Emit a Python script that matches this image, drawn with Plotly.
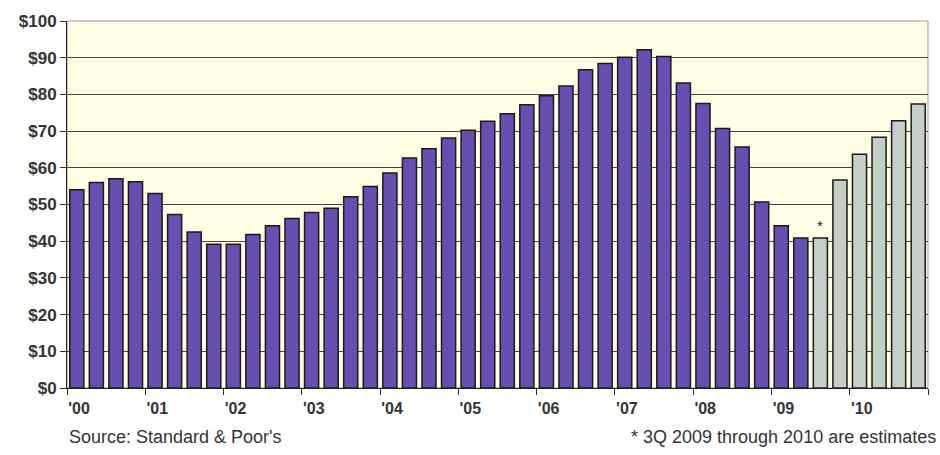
import plotly.graph_objects as go

# quarterly values, 1Q 2000 - 4Q 2010
quarters = [f"{q}Q {y}" for y in range(2000, 2011) for q in range(1, 5)]
actual = [54, 56, 57, 56.2,
          53, 47.3, 42.5, 39.2,
          39.2, 41.8, 44.2, 46.2,
          47.8, 49, 52.1, 54.9,
          58.6, 62.7, 65.2, 68.1,
          70.2, 72.7, 74.7, 77.2,
          79.6, 82.3, 86.7, 88.4,
          90.1, 92.2, 90.3, 83.1,
          77.5, 70.7, 65.7, 50.7,
          44.2, 40.9]
estimates = [40.9, 56.7, 63.7, 68.3, 72.8, 77.4]
year_labels = ["'00", "'01", "'02", "'03", "'04", "'05", "'06", "'07", "'08", "'09", "'10", ""]
y_ticks = list(range(0, 101, 10))

n_actual = len(actual)
x_actual = list(range(n_actual))
x_est = list(range(n_actual, n_actual + len(estimates)))

fig = go.Figure()
fig.add_trace(go.Bar(
    x=x_actual, y=actual, marker=dict(color="#6450B0", line=dict(color="#1a1a1a", width=1.5)),
    hovertext=quarters[:n_actual], name="Actual",
))
fig.add_trace(go.Bar(
    x=x_est, y=estimates, marker=dict(color="#C6CEC8", line=dict(color="#1a1a1a", width=1.5)),
    hovertext=quarters[n_actual:], name="Estimate",
))

# asterisk over first estimate
fig.add_annotation(x=x_est[0], y=estimates[0], text="*", showarrow=False, yshift=12,
                   font=dict(family="Arial", size=15, color="#222"))

fig.add_annotation(x=0, y=0, xref="paper", yref="paper", xanchor="left", yanchor="top",
                   yshift=-37, text="Source: Standard & Poor's", showarrow=False,
                   font=dict(family="Arial", size=18, color="#333"))
fig.add_annotation(x=1, y=0, xref="paper", yref="paper", xanchor="right", yanchor="top",
                   xshift=10, yshift=-37, text="* 3Q 2009 through 2010 are estimates", showarrow=False,
                   font=dict(family="Arial", size=18, color="#333"))

fig.update_layout(
    width=940, height=455,
    margin=dict(l=67, r=12, t=16, b=67),
    paper_bgcolor="white",
    plot_bgcolor="#FFFEE4",
    showlegend=False,
    bargap=0.28,
    xaxis=dict(
        range=[-0.5, len(quarters) - 0.5],
        tickvals=[i * 4 - 0.5 for i in range(len(year_labels))],
        ticktext=year_labels,
        ticks="outside", ticklen=6, tickcolor="#333",
        ticklabelshift=12,
        tickfont=dict(family="Arial", size=16, color="#333", weight="bold"),
        showgrid=False, zeroline=False,
        showline=True, linecolor="#222", linewidth=1,
    ),
    yaxis=dict(
        range=[0, 100],
        tickvals=y_ticks,
        ticktext=[f"${v}" for v in y_ticks],
        ticks="outside", ticklen=6, tickcolor="#333",
        tickfont=dict(family="Arial", size=17, color="#333", weight="bold"),
        showgrid=True, gridcolor="#444", gridwidth=1,
        zeroline=False,
        showline=True, linecolor="#222", linewidth=1,
    ),
)

# light border on top/right of plot area
fig.add_shape(type="rect", xref="paper", yref="paper", x0=0, y0=0, x1=1, y1=1,
              line=dict(color="#999", width=1), layer="below")

# drop the default body margin so the figure fills the window
fig.write_html("out.html", config={"displayModeBar": False},
               post_script="document.body.style.margin='0';")
